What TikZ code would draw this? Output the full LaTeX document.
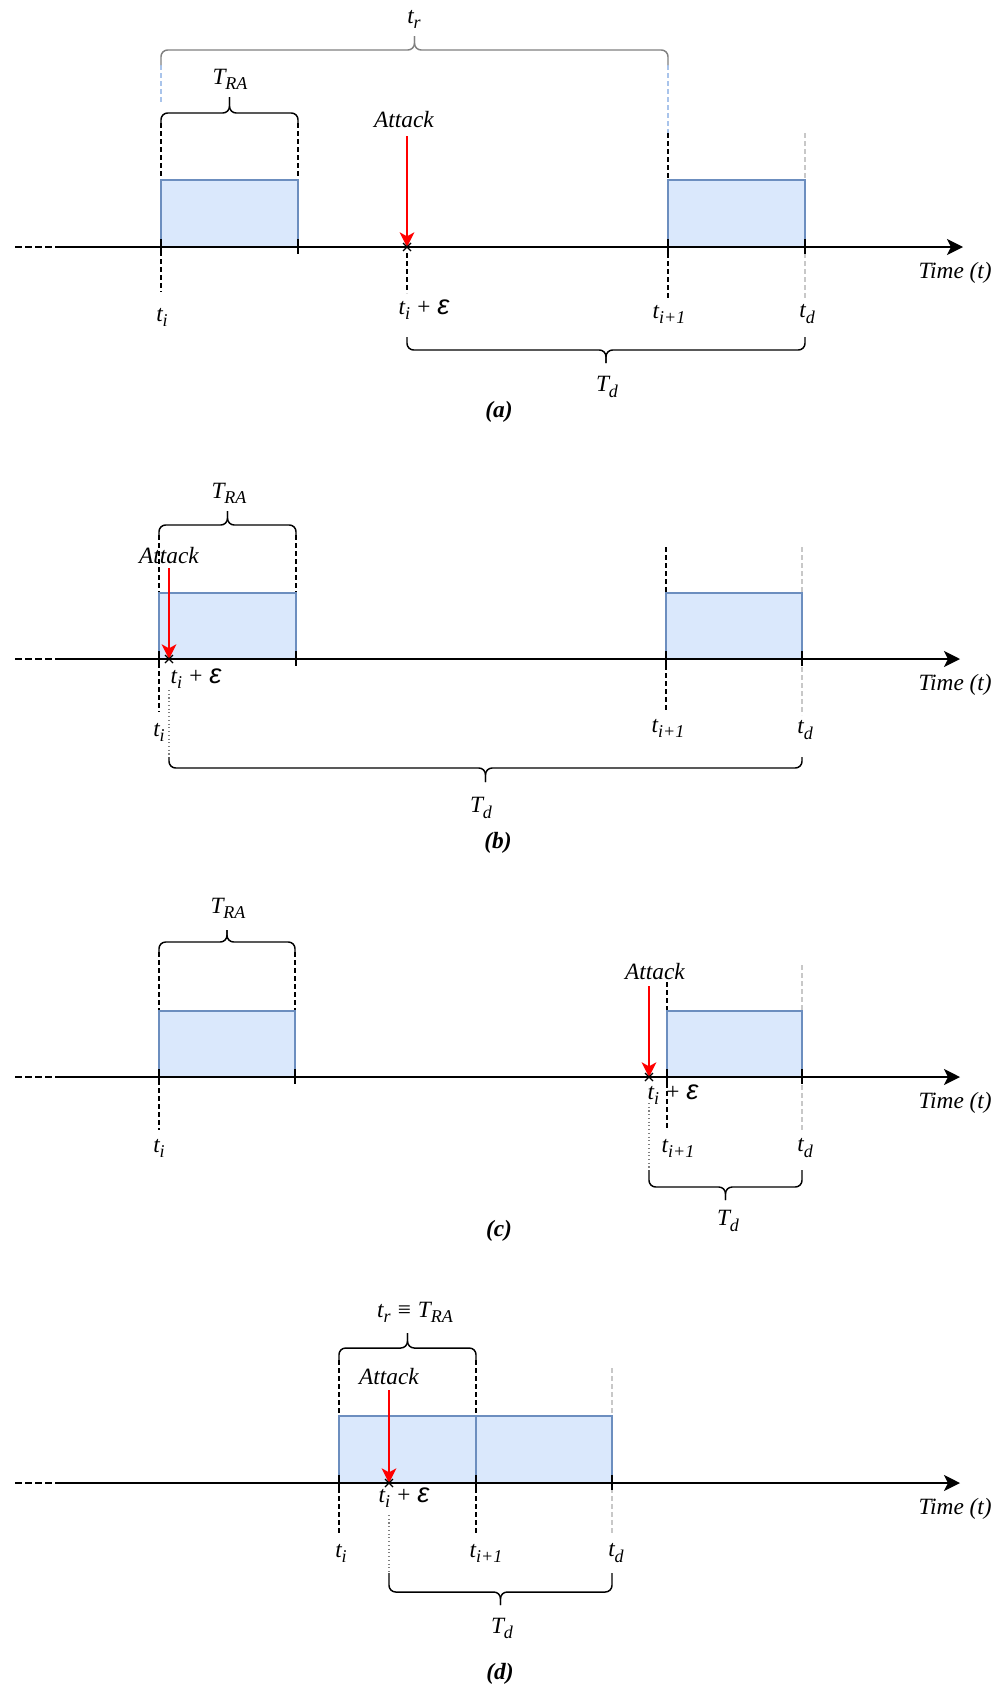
\documentclass[tikz,border=0pt]{standalone}
\usepackage{fontspec}
\setmainfont{Liberation Serif}
\newfontfamily\epsfont{Liberation Sans}
\usetikzlibrary{arrows.meta}
\definecolor{boxfill}{HTML}{DAE8FC}
\definecolor{boxline}{HTML}{6C8EBF}
\definecolor{lightline}{HTML}{A9C4EB}
\definecolor{tdline}{HTML}{C8C8C8}
\definecolor{trgray}{HTML}{808080}
\newcommand{\eps}{{\epsfont\fontsize{20.5}{22}\selectfont ε}}
\newcommand{\low}[1]{\raisebox{-0.22em}{\fontsize{13.5}{14}\selectfont #1}}
\newcommand{\curly}[6]{%
	\draw[#1] (#2,#4) -- (#2,#5) -- ({(#2+#3)/2},#5) -- ({(#2+#3)/2},#6);
	\draw[#1] (#3,#4) -- (#3,#5) -- ({(#2+#3)/2},#5) -- ({(#2+#3)/2},#6);}
\begin{document}
\begin{tikzpicture}[x=0.75pt, y=-0.75pt,
	lbl/.style={font=\fontsize{17.5}{20}\selectfont\itshape, inner sep=0pt},
	tag/.style={font=\fontsize{17.5}{20}\selectfont\bfseries\itshape, inner sep=0pt},
	slot/.style={fill=boxfill, draw=boxline, line width=1pt},
	axis/.style={line width=1.2pt, -{Stealth[length=12pt,width=12pt,inset=3pt]}},
	lead/.style={line width=1.2pt, dash pattern=on 5pt off 2.5pt},
	guide/.style={line width=1pt, dash pattern=on 3.5pt off 2.5pt},
	faint/.style={guide, draw=tdline},
	pale/.style={guide, draw=lightline},
	trace/.style={line width=0.8pt, draw=gray, dotted},
	tick/.style={line width=1.2pt},
	attack/.style={red, line width=1.2pt, -{Stealth[length=11pt,width=11pt,inset=3pt]}},
	curl/.style={line width=1.1pt, rounded corners=5pt},
	hit/.style={line width=1pt}]
	\useasboundingbox (0,0) rectangle (1006,1688);

	% (a)
	\draw[pale] (161,65) -- (161,105);
	\draw[pale] (668,65) -- (668,133);
	\draw[guide] (161,123) -- (161,292);
	\draw[guide] (298,123) -- (298,180);
	\draw[guide] (668,133) -- (668,180);
	\draw[guide] (668,253) -- (668,300);
	\draw[guide] (407,253) -- (407,293);
	\draw[faint] (805,133) -- (805,300);
	\draw[slot] (161,180) rectangle (298,247);
	\draw[slot] (668,180) rectangle (805,247);
	\draw[lead] (15,247) -- (58,247);
	\draw[axis] (58,247) -- (963,247);
	\draw[tick] (161,239) -- (161,254) (298,239) -- (298,254) (668,239) -- (668,254) (805,239) -- (805,254);
	\curly{curl, draw=trgray}{161}{668}{65}{50}{36}
	\curly{curl}{161}{298}{123}{113}{97}
	\curly{curl}{407}{805}{337}{350}{363}
	\coordinate (src-a) at (407,136);
	\coordinate (hit-a) at (407,247);
	\draw[attack] (src-a) -- (hit-a);
	\draw[hit] (hit-a) ++(-4,-4) -- ++(8,8) ++(0,-8) -- ++(-8,8);
	\node[lbl] (tr-a) at (414,19) {t\low{r}};
	\node[lbl] (tra-a) at (230,79) {T\low{RA}};
	\node[lbl] (atk-a) at (404,120) {Attack};
	\node[lbl] (ti-a) at (162,317) {t\low{i}};
	\node[lbl] (tie-a) at (424,310) {t\low{i} + \eps};
	\node[lbl] (tnext-a) at (669,314) {t\low{i+1}};
	\node[lbl] (td-a) at (807,314) {t\low{d}};
	\node[lbl] (Td-a) at (607,387) {T\low{d}};
	\node[lbl, anchor=east] (time-a) at (992,273) {Time (t)};
	\node[tag] (tag-a) at (499,412) {(a)};

	% (b)
	\draw[guide] (159,535) -- (159,712);
	\draw[guide] (296,535) -- (296,593);
	\draw[guide] (666,547) -- (666,593);
	\draw[guide] (666,665) -- (666,712);
	\draw[faint] (802,547) -- (802,715);
	\draw[trace] (169,690) -- (169,757);
	\draw[slot] (159,593) rectangle (296,659);
	\draw[slot] (666,593) rectangle (802,659);
	\draw[lead] (15,659) -- (56,659);
	\draw[axis] (56,659) -- (960,659);
	\draw[tick] (159,651) -- (159,666) (296,651) -- (296,666) (666,651) -- (666,666) (802,651) -- (802,666);
	\curly{curl}{159}{296}{535}{525}{511}
	\curly{curl}{169}{802}{757}{768}{782}
	\coordinate (src-b) at (169,568);
	\coordinate (hit-b) at (169,659);
	\draw[attack] (src-b) -- (hit-b);
	\draw[hit] (hit-b) ++(-4,-4) -- ++(8,8) ++(0,-8) -- ++(-8,8);
	\node[lbl] (tra-b) at (229,493) {T\low{RA}};
	\node[lbl] (atk-b) at (169,556) {Attack};
	\node[lbl] (tie-b) at (196,679) {t\low{i} + \eps};
	\node[lbl] (ti-b) at (159,732) {t\low{i}};
	\node[lbl] (tnext-b) at (668,728) {t\low{i+1}};
	\node[lbl] (td-b) at (805,730) {t\low{d}};
	\node[lbl] (Td-b) at (481,808) {T\low{d}};
	\node[lbl, anchor=east] (time-b) at (992,685) {Time (t)};
	\node[tag] (tag-b) at (498,843) {(b)};

	% (c)
	\draw[guide] (159,952) -- (159,1130);
	\draw[guide] (295,952) -- (295,1011);
	\draw[guide] (667,982) -- (667,1011);
	\draw[guide] (667,1083) -- (667,1128);
	\draw[faint] (802,965) -- (802,1130);
	\draw[trace] (649,1103) -- (649,1170);
	\draw[slot] (159,1011) rectangle (295,1077);
	\draw[slot] (667,1011) rectangle (802,1077);
	\draw[lead] (15,1077) -- (56,1077);
	\draw[axis] (56,1077) -- (960,1077);
	\draw[tick] (159,1069) -- (159,1084) (295,1069) -- (295,1084) (667,1069) -- (667,1084) (802,1069) -- (802,1084);
	\curly{curl}{159}{295}{952}{942}{930}
	\curly{curl}{649}{802}{1170}{1187}{1200}
	\coordinate (src-c) at (649,986);
	\coordinate (hit-c) at (649,1077);
	\draw[attack] (src-c) -- (hit-c);
	\draw[hit] (hit-c) ++(-4,-4) -- ++(8,8) ++(0,-8) -- ++(-8,8);
	\node[lbl] (tra-c) at (228,908) {T\low{RA}};
	\node[lbl] (atk-c) at (655,972) {Attack};
	\node[lbl] (tie-c) at (673,1095) {t\low{i} + \eps};
	\node[lbl] (ti-c) at (159,1148) {t\low{i}};
	\node[lbl] (tnext-c) at (678,1148) {t\low{i+1}};
	\node[lbl] (td-c) at (805,1148) {t\low{d}};
	\node[lbl] (Td-c) at (728,1221) {T\low{d}};
	\node[lbl, anchor=east] (time-c) at (992,1103) {Time (t)};
	\node[tag] (tag-c) at (499,1231) {(c)};

	% (d)
	\draw[guide] (339,1360) -- (339,1535);
	\draw[guide] (476,1360) -- (476,1535);
	\draw[faint] (612,1368) -- (612,1535);
	\draw[trace] (389,1515) -- (389,1573);
	\draw[slot] (339,1416) rectangle (476,1483);
	\draw[slot] (476,1416) rectangle (612,1483);
	\draw[lead] (15,1483) -- (56,1483);
	\draw[axis] (56,1483) -- (960,1483);
	\draw[tick] (339,1475) -- (339,1490) (476,1475) -- (476,1490) (612,1475) -- (612,1490);
	\curly{curl}{339}{476}{1360}{1348}{1333}
	\curly{curl}{389}{612}{1573}{1592}{1605}
	\coordinate (src-d) at (389,1390);
	\coordinate (hit-d) at (389,1483);
	\draw[attack] (src-d) -- (hit-d);
	\draw[hit] (hit-d) ++(-4,-4) -- ++(8,8) ++(0,-8) -- ++(-8,8);
	\node[lbl] (tra-d) at (415,1312) {t\low{r} ≡ T\low{RA}};
	\node[lbl] (atk-d) at (389,1377) {Attack};
	\node[lbl] (tie-d) at (404,1498) {t\low{i} + \eps};
	\node[lbl] (ti-d) at (341,1553) {t\low{i}};
	\node[lbl] (tnext-d) at (486,1553) {t\low{i+1}};
	\node[lbl] (td-d) at (616,1553) {t\low{d}};
	\node[lbl] (Td-d) at (502,1628) {T\low{d}};
	\node[lbl, anchor=east] (time-d) at (992,1509) {Time (t)};
	\node[tag] (tag-d) at (500,1674) {(d)};
\end{tikzpicture}
\end{document}
